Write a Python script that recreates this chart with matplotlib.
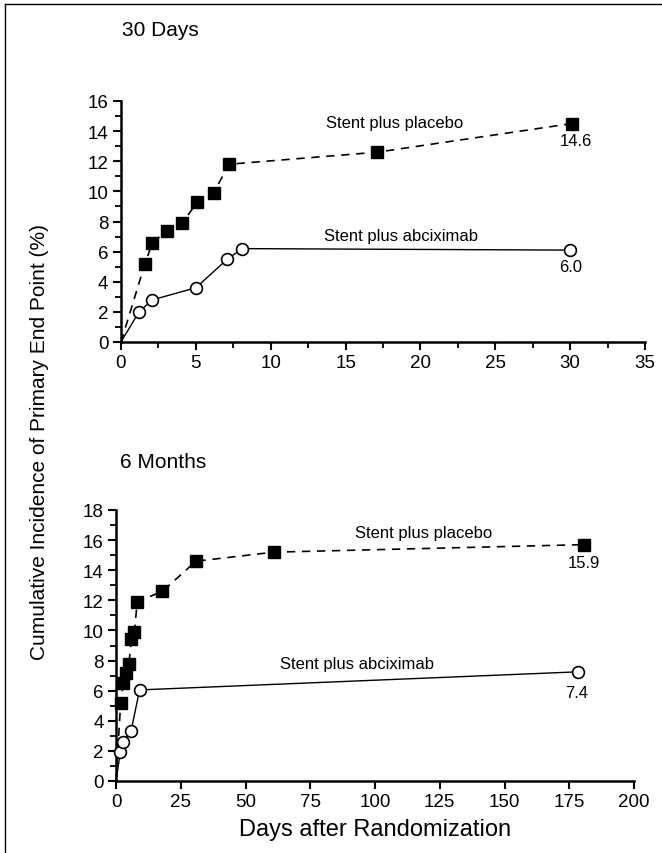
import matplotlib
matplotlib.use("Agg")
import matplotlib.pyplot as plt
from matplotlib.lines import Line2D
from matplotlib.ticker import MultipleLocator

plt.rcParams['font.family'] = ['Liberation Sans', 'DejaVu Sans']

# 30-day panel
days_30_placebo = [0, 1.6, 2.1, 3.1, 4.1, 5.1, 6.2, 7.2, 17.1, 30.1]
incid_30_placebo = [0, 5.2, 6.6, 7.4, 7.9, 9.3, 9.9, 11.8, 12.6, 14.5]
days_30_abcix = [0, 1.2, 2.1, 5.0, 7.1, 8.1, 30.0]
incid_30_abcix = [0, 2.0, 2.8, 3.6, 5.5, 6.2, 6.1]

# 6-month panel
days_6m_placebo = [0, 1.8, 2.8, 4.0, 5.0, 5.9, 7.1, 8.2, 17.9, 30.9, 60.9, 180.8]
incid_6m_placebo = [0, 5.2, 6.5, 7.2, 7.8, 9.4, 9.9, 11.9, 12.6, 14.6, 15.2, 15.7]
days_6m_abcix = [0, 1.7, 2.7, 5.8, 9.1, 178.2]
incid_6m_abcix = [0, 1.95, 2.6, 3.3, 6.05, 7.25]

final_labels_30 = ['14.6', '6.0']
final_labels_6m = ['15.9', '7.4']

W, H = 662, 854
fig = plt.figure(figsize=(W / 100, H / 100), dpi=100)

ax1 = fig.add_axes([121 / W, 1 - 343 / H, 524 / W, 241 / H])
ax2 = fig.add_axes([116 / W, 1 - 782 / H, 518 / W, 271 / H])


def draw(ax, dp, yp, da, ya):
    ax.plot(dp, yp, color='black', ls=(0, (5, 4)), lw=1.2, marker='s',
            ms=8.5, mfc='black', mec='black', markevery=list(range(1, len(dp))),
            clip_on=False, zorder=3)
    ax.plot(da, ya, color='black', ls='-', lw=1.0, marker='o',
            ms=8.5, mfc='white', mec='black', mew=1.2,
            markevery=list(range(1, len(da))), clip_on=False, zorder=4)
    for s in ['top', 'right']:
        ax.spines[s].set_visible(False)
    for s in ['left', 'bottom']:
        ax.spines[s].set_linewidth(1.8)
    ax.tick_params(which='major', direction='out', length=6, width=1.5,
                   labelsize=13.5, pad=3)
    ax.tick_params(which='minor', direction='out', length=4, width=1.3)


draw(ax1, days_30_placebo, incid_30_placebo, days_30_abcix, incid_30_abcix)
ax1.set_xlim(0, 35)
ax1.set_ylim(0, 16)
ax1.xaxis.set_major_locator(MultipleLocator(5))
ax1.xaxis.set_minor_locator(MultipleLocator(2.5))
ax1.yaxis.set_major_locator(MultipleLocator(2))
ax1.yaxis.set_minor_locator(MultipleLocator(1))
ax1.text(18.3, 14.6, 'Stent plus placebo', ha='center', va='center', fontsize=12)
ax1.text(18.7, 7.1, 'Stent plus abciximab', ha='center', va='center', fontsize=12)
ax1.text(30.4, 13.4, final_labels_30[0], ha='center', va='center', fontsize=12)
ax1.text(30.0, 5.0, final_labels_30[1], ha='center', va='center', fontsize=12)

draw(ax2, days_6m_placebo, incid_6m_placebo, days_6m_abcix, incid_6m_abcix)
ax2.set_xlim(0, 200)
ax2.set_ylim(0, 18)
ax2.xaxis.set_major_locator(MultipleLocator(25))
ax2.yaxis.set_major_locator(MultipleLocator(2))
ax2.yaxis.set_minor_locator(MultipleLocator(1))
ax2.text(118.7, 16.5, 'Stent plus placebo', ha='center', va='center', fontsize=12)
ax2.text(93, 7.8, 'Stent plus abciximab', ha='center', va='center', fontsize=12)
ax2.text(180.8, 14.5, final_labels_6m[0], ha='center', va='center', fontsize=12)
ax2.text(178, 5.9, final_labels_6m[1], ha='center', va='center', fontsize=12)

fig.text(122 / W, 1 - 30 / H, '30 Days', ha='left', va='center', fontsize=15)
fig.text(120 / W, 1 - 462 / H, '6 Months', ha='left', va='center', fontsize=15)
fig.text(40 / W, 1 - 442 / H, 'Cumulative Incidence of Primary End Point (%)',
         rotation=90, ha='center', va='center', fontsize=15)
fig.text(375 / W, 1 - 830 / H, 'Days after Randomization',
         ha='center', va='center', fontsize=17)

# scan frame: top and left border
fig.add_artist(Line2D([5 / W, 5 / W], [0, 1 - 5 / H], color='black', lw=1,
                      transform=fig.transFigure))
fig.add_artist(Line2D([5 / W, 1], [1 - 5 / H, 1 - 5 / H], color='black', lw=1,
                      transform=fig.transFigure))

fig.savefig('out.png', dpi=100)
